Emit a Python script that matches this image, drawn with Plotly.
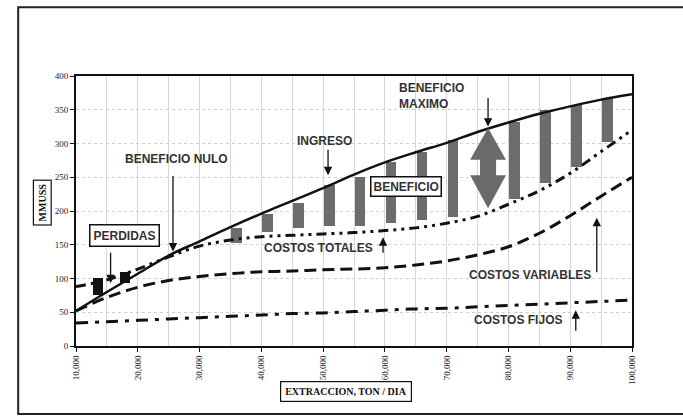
import plotly.graph_objects as go

# ---- data ----
x_curve = [10000, 15000, 20000, 25000, 30000, 35000, 40000, 45000, 50000, 55000,
           60000, 65000, 70000, 75000, 80000, 85000, 90000, 95000, 100000]
ingreso = [52, 80, 107, 134, 155, 176, 196, 215, 234, 254,
           272, 287, 301, 317, 331, 344, 355, 365, 373]
costos_totales = [88, 98, 114, 132, 148, 157, 162, 164, 166, 168,
                  171, 175, 182, 192, 210, 230, 256, 288, 320]
costos_variables = [52, 72, 87, 97, 103, 107, 110, 111, 113, 114,
                    116, 120, 126, 135, 147, 167, 193, 222, 250]
costos_fijos = [34, 36, 38, 40, 42, 44, 46, 48, 49, 51,
                53, 55, 56, 58, 60, 62, 64, 66, 68]

benef_x = [36000, 41000, 46000, 51000, 56000, 61000, 66000, 71000, 81000, 86000, 91000, 96000]
benef_top = [175, 196, 212, 238, 250, 273, 287, 305, 332, 350, 357, 367]
benef_bottom = [153, 169, 175, 178, 178, 182, 187, 191, 218, 241, 265, 302]

perd_x = [13600, 17900]
perd_top = [101, 110]
perd_bottom = [76, 93]

x_ticks = [10000, 20000, 30000, 40000, 50000, 60000, 70000, 80000, 90000, 100000]
x_tick_labels = ["10,000", "20,000", "30,000", "40,000", "50,000",
                 "60,000", "70,000", "80,000", "90,000", "100,000"]
y_ticks = [0, 50, 100, 150, 200, 250, 300, 350, 400]

fig = go.Figure()

fig.add_trace(go.Bar(x=benef_x, y=[t - b for t, b in zip(benef_top, benef_bottom)],
                     base=benef_bottom, width=1700, marker=dict(color="#6c6c6c", line=dict(width=0)),
                     showlegend=False))
fig.add_trace(go.Bar(x=perd_x, y=[t - b for t, b in zip(perd_top, perd_bottom)],
                     base=perd_bottom, width=1700, marker=dict(color="#111111", line=dict(width=0)),
                     showlegend=False))

fig.add_trace(go.Scatter(x=x_curve, y=costos_fijos, mode="lines", showlegend=False,
                         line=dict(color="#111", width=3, dash="12px,7px,4px,7px", shape="spline")))
fig.add_trace(go.Scatter(x=x_curve, y=costos_variables, mode="lines", showlegend=False,
                         line=dict(color="#111", width=3, dash="12px,6px", shape="spline")))
fig.add_trace(go.Scatter(x=x_curve, y=costos_totales, mode="lines", showlegend=False,
                         line=dict(color="#111", width=3, dash="10px,5px,3px,5px,3px,5px", shape="spline")))
fig.add_trace(go.Scatter(x=x_curve, y=ingreso, mode="lines", showlegend=False,
                         line=dict(color="#111", width=2.5, shape="spline")))

# big double arrow (BENEFICIO MAXIMO)
fig.add_shape(type="path", xref="x", yref="y",
              path="M 76700 323 L 79600 276 L 78000 276 L 78000 253 L 79600 253 L 76700 204 "
                   "L 73800 253 L 75400 253 L 75400 276 L 73800 276 Z",
              fillcolor="#6a6a6a", line=dict(width=0))

lbl = dict(family="Arial, Liberation Sans, sans-serif", size=12, color="#333")
ann = []
def text(x, y, s, **kw):
    d = dict(x=x, y=y, xref="x", yref="y", text=s, showarrow=False, font=lbl)
    d.update(kw)
    ann.append(d)

def arrow(x, y, ay):
    ann.append(dict(x=x, y=y, xref="x", yref="y", text="", showarrow=True, ax=0, ay=ay,
                    arrowhead=2, arrowsize=1.3, arrowwidth=1.3, arrowcolor="#111"))

text(62000, 370, "<b>BENEFICIO<br>MAXIMO</b>", xanchor="left", align="left")
arrow(76700, 325, -30)
text(50300, 304, "<b>INGRESO</b>")
arrow(50800, 253, -27)
text(26300, 277, "<b>BENEFICIO NULO</b>")
arrow(25700, 140, -77)
text(17900, 163, "<b>PERDIDAS</b>", bordercolor="#111", borderwidth=1.5, borderpad=3, bgcolor="white")
arrow(15600, 93, -32)
text(63400, 236, "<b>BENEFICIO</b>", bordercolor="#111", borderwidth=1.5, borderpad=2, bgcolor="white")
text(49300, 145, "<b>COSTOS TOTALES</b>")
arrow(59700, 161, 17)
text(83500, 105, "<b>COSTOS VARIABLES</b>")
arrow(94300, 190, 56)
text(81500, 38, "<b>COSTOS FIJOS</b>")
arrow(90900, 53, 22)

serif = dict(family="Liberation Serif, Times New Roman, serif", size=10, color="#111")
ann.append(dict(x=-0.077, y=0.53, xref="paper", yref="paper", text="<b>MMUSS</b>", textangle=-90,
                showarrow=False, font=serif, bordercolor="#111", borderwidth=1.2, borderpad=3,
                bgcolor="white"))
ann.append(dict(x=0.486, y=-0.207, xref="paper", yref="paper", text="<b>EXTRACCION, TON / DIA</b>",
                showarrow=False, font=serif, bordercolor="#111", borderwidth=1.2, borderpad=4,
                bgcolor="white"))

fig.update_layout(annotations=ann)

# outer frame
fig.add_shape(type="rect", xref="paper", yref="paper", x0=-0.104, x1=1.2, y0=-0.252, y1=1.255,
              line=dict(color="#222", width=2), layer="below")

fig.update_xaxes(range=[10000, 100000], tickvals=x_ticks, ticktext=x_tick_labels, tickangle=-90,
                 tickfont=dict(family="Liberation Serif, Times New Roman, serif", size=9, color="#222"),
                 ticks="outside", ticklen=4, tickcolor="#111",
                 showline=True, linecolor="#111", linewidth=2, mirror=True,
                 showgrid=True, gridcolor="#d6d6d6", gridwidth=1, zeroline=False,
                 minor=dict(dtick=5000, tick0=10000, showgrid=True, gridcolor="#d6d6d6", ticks=""))
fig.update_yaxes(range=[0, 400], tickvals=y_ticks,
                 tickfont=dict(family="Liberation Serif, Times New Roman, serif", size=9, color="#222"),
                 ticks="outside", ticklen=4, tickcolor="#111",
                 showline=True, linecolor="#111", linewidth=2, mirror=True,
                 showgrid=True, gridcolor="#cfcfcf", griddash="dot", gridwidth=1, zeroline=False)

fig.update_layout(width=683, height=420, margin=dict(l=76, r=51, t=76, b=74),
                  plot_bgcolor="white", paper_bgcolor="white", barmode="overlay", bargap=0)

fig.write_html("out.html", config={"displayModeBar": False},
               post_script="document.body.style.margin='0';")
